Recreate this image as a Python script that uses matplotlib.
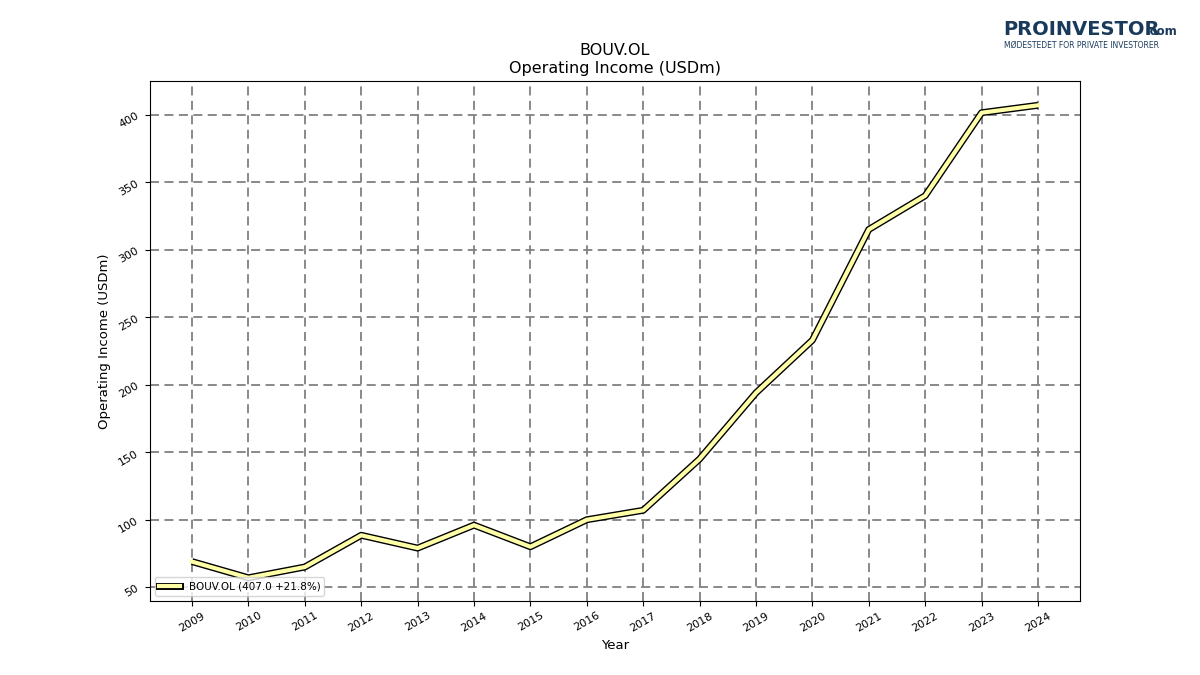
import matplotlib
matplotlib.use("Agg")
import matplotlib.pyplot as plt
import matplotlib.patheffects as pe
from matplotlib.lines import Line2D

years = [2009,2010,2011,2012,2013,2014,2015,2016,2017,2018,2019,2020,2021,2022,2023,2024]
values = [69,57,65,88.5,79,96,80,100,107,145,194,233,315,340,401.5,407]
label = "BOUV.OL (407.0 +21.8%)"

fig = plt.figure(figsize=(12,6.75), dpi=100)
ax = fig.add_axes([0.125, 0.11, 0.775, 0.77])
ax.plot(years, values, color="black", lw=5, solid_capstyle="butt")
ax.plot(years, values, color="#ffffa8", lw=3)
ax.set_xticks(years)
ax.set_xticklabels([str(y) for y in years], rotation=30, fontsize=8)
ax.set_yticks([50,100,150,200,250,300,350,400])
ax.tick_params(axis="y", labelrotation=30, labelsize=8)
ax.set_xlim(2008.255, 2024.745)
ax.set_ylim(40, 425)
ax.grid(True, color="gray", ls=(0,(5,3)), lw=1.3)
ax.set_xlabel("Year", fontsize=9.5)
ax.set_ylabel("Operating Income (USDm)", fontsize=9.5)
ax.set_title("BOUV.OL\nOperating Income (USDm)", fontsize=11.5)
h = [Line2D([0],[0], color="#ffffa8", lw=3)]
h[0].set_path_effects([pe.Stroke(linewidth=5, foreground="black"), pe.Normal()])
ax.legend(h, [label], loc="lower left", fontsize=7.5)
fig.text(0.836, 0.948, "PROINVESTOR", fontsize=14, fontweight="bold", color="#1a3a5c")
fig.text(0.955, 0.948, ".com", fontsize=8.5, fontweight="bold", color="#1a3a5c")
fig.text(0.837, 0.929, "MØDESTEDET FOR PRIVATE INVESTORER", fontsize=5.5, color="#1a3a5c")
fig.savefig("out.png", dpi=100)
